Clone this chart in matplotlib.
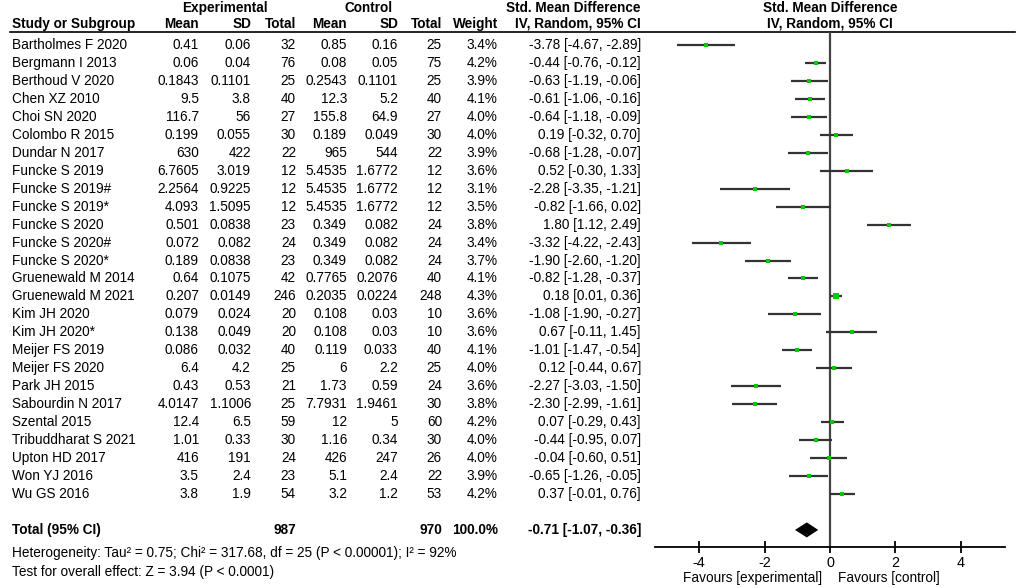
import matplotlib
matplotlib.use("Agg")
import matplotlib.pyplot as plt

plt.rcParams["font.family"] = ["Liberation Sans", "DejaVu Sans"]
plt.rcParams["axes.unicode_minus"] = False

# table data
studies = ["Bartholmes F 2020", "Bergmann I 2013", "Berthoud V 2020", "Chen XZ 2010",
           "Choi SN 2020", "Colombo R 2015", "Dundar N 2017", "Funcke S 2019",
           "Funcke S 2019#", "Funcke S 2019*", "Funcke S 2020", "Funcke S 2020#",
           "Funcke S 2020*", "Gruenewald M 2014", "Gruenewald M 2021", "Kim JH 2020",
           "Kim JH 2020*", "Meijer FS 2019", "Meijer FS 2020", "Park JH 2015",
           "Sabourdin N 2017", "Szental 2015", "Tribuddharat S 2021", "Upton HD 2017",
           "Won YJ 2016", "Wu GS 2016"]
exp_mean = ["0.41", "0.06", "0.1843", "9.5", "116.7", "0.199", "630", "6.7605",
            "2.2564", "4.093", "0.501", "0.072", "0.189", "0.64", "0.207", "0.079",
            "0.138", "0.086", "6.4", "0.43", "4.0147", "12.4", "1.01", "416", "3.5", "3.8"]
exp_sd = ["0.06", "0.04", "0.1101", "3.8", "56", "0.055", "422", "3.019", "0.9225",
          "1.5095", "0.0838", "0.082", "0.0838", "0.1075", "0.0149", "0.024", "0.049",
          "0.032", "4.2", "0.53", "1.1006", "6.5", "0.33", "191", "2.4", "1.9"]
exp_n = [32, 76, 25, 40, 27, 30, 22, 12, 12, 12, 23, 24, 23, 42, 246, 20, 20, 40,
         25, 21, 25, 59, 30, 24, 23, 54]
ctl_mean = ["0.85", "0.08", "0.2543", "12.3", "155.8", "0.189", "965", "5.4535",
            "5.4535", "5.4535", "0.349", "0.349", "0.349", "0.7765", "0.2035", "0.108",
            "0.108", "0.119", "6", "1.73", "7.7931", "12", "1.16", "426", "5.1", "3.2"]
ctl_sd = ["0.16", "0.05", "0.1101", "5.2", "64.9", "0.049", "544", "1.6772", "1.6772",
          "1.6772", "0.082", "0.082", "0.082", "0.2076", "0.0224", "0.03", "0.03",
          "0.033", "2.2", "0.59", "1.9461", "5", "0.34", "247", "2.4", "1.2"]
ctl_n = [25, 75, 25, 40, 27, 30, 22, 12, 12, 12, 24, 24, 24, 40, 248, 10, 10, 40,
         25, 24, 30, 60, 30, 26, 22, 53]
weight = [3.4, 4.2, 3.9, 4.1, 4.0, 4.0, 3.9, 3.6, 3.1, 3.5, 3.8, 3.4, 3.7, 4.1, 4.3,
          3.6, 3.6, 4.1, 4.0, 3.6, 3.8, 4.2, 4.0, 4.0, 3.9, 4.2]
smd = [-3.78, -0.44, -0.63, -0.61, -0.64, 0.19, -0.68, 0.52, -2.28, -0.82, 1.80,
       -3.32, -1.90, -0.82, 0.18, -1.08, 0.67, -1.01, 0.12, -2.27, -2.30, 0.07,
       -0.44, -0.04, -0.65, 0.37]
ci_lo = [-4.67, -0.76, -1.19, -1.06, -1.18, -0.32, -1.28, -0.30, -3.35, -1.66, 1.12,
         -4.22, -2.60, -1.28, 0.01, -1.90, -0.11, -1.47, -0.44, -3.03, -2.99, -0.29,
         -0.95, -0.60, -1.26, -0.01]
ci_hi = [-2.89, -0.12, -0.06, -0.16, -0.09, 0.70, -0.07, 1.33, -1.21, 0.02, 2.49,
         -2.43, -1.20, -0.37, 0.36, -0.27, 1.45, -0.54, 0.67, -1.50, -1.61, 0.43,
         0.07, 0.51, -0.05, 0.76]

total_exp = 987
total_ctl = 970
total_smd, total_lo, total_hi = -0.71, -1.07, -0.36
xticks = [-4, -2, 0, 2, 4]

W, H = 1020, 588
fig = plt.figure(figsize=(W / 100, H / 100), dpi=100)

# text layer in pixel coordinates
tab = fig.add_axes([0, 0, 1, 1])
tab.set_xlim(0, W)
tab.set_ylim(H, 0)
tab.axis("off")

FS = 9.85
row0, step = 45, 17.96


def row_y(i):
    return row0 + i * step


cols = [199, 251, 296, 347, 398, 442, 498, 641]

# headers
tab.text(225, 8, "Experimental", ha="center", va="center", fontsize=FS, fontweight="bold")
tab.text(369, 8, "Control", ha="center", va="center", fontsize=FS, fontweight="bold")
tab.text(641, 8, "Std. Mean Difference", ha="right", va="center", fontsize=FS, fontweight="bold")
tab.text(830, 8, "Std. Mean Difference", ha="center", va="center", fontsize=FS, fontweight="bold")
tab.text(12, 24, "Study or Subgroup", ha="left", va="center", fontsize=FS, fontweight="bold")
for x, h in zip(cols, ["Mean", "SD", "Total", "Mean", "SD", "Total", "Weight",
                       "IV, Random, 95% CI"]):
    tab.text(x, 24, h, ha="right", va="center", fontsize=FS, fontweight="bold")
tab.text(830, 24, "IV, Random, 95% CI", ha="center", va="center", fontsize=FS, fontweight="bold")
tab.plot([10, 1015], [32, 32], color="black", lw=1.2)

for i, name in enumerate(studies):
    y = row_y(i)
    tab.text(12, y, name, ha="left", va="center", fontsize=FS)
    vals = [exp_mean[i], exp_sd[i], str(exp_n[i]), ctl_mean[i], ctl_sd[i], str(ctl_n[i]),
            f"{weight[i]:.1f}%", f"{smd[i]:.2f} [{ci_lo[i]:.2f}, {ci_hi[i]:.2f}]"]
    for x, v in zip(cols, vals):
        tab.text(x, y, v, ha="right", va="center", fontsize=FS)

yt = row_y(len(studies) + 1)
tab.text(12, yt, "Total (95% CI)", ha="left", va="center", fontsize=FS, fontweight="bold")
tab.text(cols[2], yt, str(total_exp), ha="right", va="center", fontsize=FS, fontweight="bold")
tab.text(cols[5], yt, str(total_ctl), ha="right", va="center", fontsize=FS, fontweight="bold")
tab.text(cols[6], yt, "100.0%", ha="right", va="center", fontsize=FS, fontweight="bold")
tab.text(cols[7], yt, f"{total_smd:.2f} [{total_lo:.2f}, {total_hi:.2f}]",
         ha="right", va="center", fontsize=FS, fontweight="bold")
tab.text(12, 553, "Heterogeneity: Tau² = 0.75; Chi² = 317.68, df = 25 (P < 0.00001); I² = 92%",
         ha="left", va="center", fontsize=FS)
tab.text(12, 572, "Test for overall effect: Z = 3.94 (P < 0.0001)",
         ha="left", va="center", fontsize=FS)

# forest axes
x0, x1, ytop, ybot = 655, 1005, 32, 547
ax = fig.add_axes([x0 / W, 1 - ybot / H, (x1 - x0) / W, (ybot - ytop) / H])
ax.patch.set_alpha(0)
half = (x1 - x0) / 2 / 32.7
ax.set_xlim(-half, half)
ax.set_ylim(ybot, ytop)
for s in ["top", "left", "right"]:
    ax.spines[s].set_visible(False)
ax.spines["bottom"].set_linewidth(1.3)
ax.set_yticks([])
ax.set_xticks(xticks)
ax.set_xticklabels([str(t) for t in xticks])
ax.tick_params(axis="x", direction="inout", length=9, width=1.3, labelsize=FS + 0.5, pad=2)
ax.axvline(0, color="#444444", lw=1.6)

for i in range(len(studies)):
    y = row_y(i)
    ax.plot([ci_lo[i], ci_hi[i]], [y, y], color="#333333", lw=1.6, solid_capstyle="butt")
    ax.plot(smd[i], y, marker="s", color="#00cc00", ms=weight[i] * 0.85, mew=0)

dh = 7.5
ax.fill([total_lo, total_smd, total_hi, total_smd], [yt, yt - dh, yt, yt + dh],
        color="black", lw=0)

tab.text(822, 578, "Favours [experimental]", ha="right", va="center", fontsize=FS)
tab.text(838, 578, "Favours [control]", ha="left", va="center", fontsize=FS)

fig.savefig("out.png", dpi=100)
